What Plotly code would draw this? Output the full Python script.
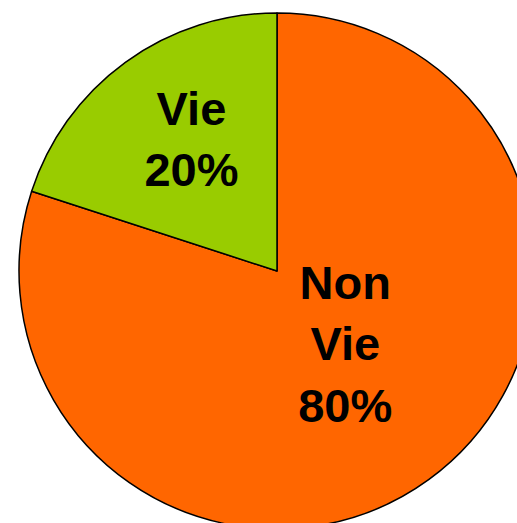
import plotly.graph_objects as go

labels = ["Non Vie", "Vie"]
display_labels = ["Non<br>Vie", "Vie"]
values = [80, 20]
colors = ["#FF6600", "#99CC00"]

W, H = 535, 529
CX, CY, R = 277, 271, 258      # pie centre and radius in pixels

font = dict(family="Liberation Sans, Arial, sans-serif", size=47, color="black", weight="bold")


def dom(r, dx=0, dy=0):
    cx, cy = CX + dx, CY + dy
    return dict(x=[(cx - r) / W, (cx + r) / W], y=[1 - (cy + r) / H, 1 - (cy - r) / H])


# main pie: slices
fig = go.Figure(go.Pie(
    labels=labels,
    values=values,
    textinfo="none",
    sort=False,
    direction="clockwise",
    rotation=0,
    marker=dict(colors=colors, line=dict(color="black", width=1.5)),
    domain=dom(R),
    showlegend=False,
))
# transparent overlay pies carrying the slice labels
for keep, r, dx, dy in (("Non Vie", 205, 8, -10), ("Vie", 250, 7, -5)):
    fig.add_trace(go.Pie(
        labels=labels,
        values=values,
        text=display_labels,
        texttemplate=["%{text}<br>%{percent:.0%}" if lab == keep else "" for lab in labels],
        textposition="inside",
        insidetextorientation="horizontal",
        sort=False,
        direction="clockwise",
        rotation=0,
        marker=dict(colors=["rgba(0,0,0,0)"] * 2, line=dict(width=0)),
        textfont=font,
        domain=dom(r, dx, dy),
        showlegend=False,
        hoverinfo="skip",
    ))
fig.update_layout(
    width=W, height=H,
    margin=dict(l=0, r=0, t=0, b=0),
    paper_bgcolor="white",
    plot_bgcolor="white",
    uniformtext=dict(minsize=47, mode="show"),
)
fig.write_html(
    "out.html",
    config={"displayModeBar": False},
    post_script="document.body.style.margin='0';document.body.style.overflow='hidden';document.documentElement.style.overflow='hidden';",
)
